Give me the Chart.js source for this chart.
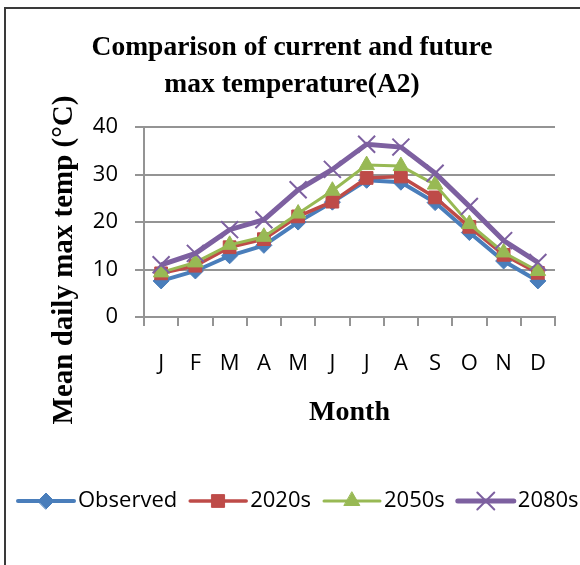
<!DOCTYPE html>
<html>
<head>
<meta charset="utf-8">
<script src="https://cdn.jsdelivr.net/npm/chart.js@4.4.1/dist/chart.umd.min.js"></script>
<style>
  html, body { margin: 0; padding: 0; background: #fff; overflow: hidden; }
  #wrap { width: 580px; height: 565px; position: relative; }
</style>
</head>
<body>
<div id="wrap"><canvas id="c" width="580" height="565"></canvas></div>
<script>
// Monthly mean daily maximum temperature (°C), observed and A2 scenario projections
const months = ['J', 'F', 'M', 'A', 'M', 'J', 'J', 'A', 'S', 'O', 'N', 'D'];
const observed    = [7.6, 9.7, 12.9, 15.1, 20.0, 24.2, 28.8, 28.4, 24.1, 17.8, 11.8, 7.6];
const future2020s = [9.2, 10.8, 14.7, 16.4, 21.2, 24.3, 29.3, 29.6, 25.2, 19.0, 13.1, 9.3];
const future2050s = [9.4, 11.5, 15.2, 16.9, 21.8, 26.6, 32.0, 31.8, 27.9, 19.6, 13.6, 9.7];
const future2080s = [11.0, 13.4, 18.4, 20.5, 26.8, 31.1, 36.4, 35.8, 30.3, 23.3, 16.1, 11.5];
const seriesNames = ['Observed', '2020s', '2050s', '2080s'];
const yMin = 0, yMax = 40, yStep = 10;

const titleLines = ['Comparison of current and future', 'max temperature(A2)'];
const yTitle = 'Mean daily max temp (°C)';
const xTitle = 'Month';

const SERIF = "'Liberation Serif', 'DejaVu Serif', serif";
const SANS = "'Open Sans', 'Liberation Sans', sans-serif";
const GRID = '#949494';

// white page with the chart-area frame
const framePlugin = {
  id: 'frame',
  beforeDraw(chart) {
    const ctx = chart.ctx;
    ctx.save();
    ctx.fillStyle = '#fff';
    ctx.fillRect(0, 0, chart.width, chart.height);
    ctx.strokeStyle = '#3a3a3a';
    ctx.lineWidth = 2;
    ctx.strokeRect(5, 8, chart.width + 20, chart.height + 20);
    ctx.restore();
  }
};

// rotated value-axis title and the line+marker legend row
const extrasPlugin = {
  id: 'extras',
  afterDraw(chart) {
    const ctx = chart.ctx;
    ctx.save();
    ctx.translate(65, 260);
    ctx.rotate(-Math.PI / 2);
    ctx.font = 'bold 29px ' + SERIF;
    ctx.fillStyle = '#000';
    ctx.textAlign = 'center';
    ctx.textBaseline = 'middle';
    ctx.fillText(yTitle, 0, 0);
    ctx.restore();

    ctx.save();
    const y = 501;
    let x = 18;
    ctx.font = '22px ' + SANS;
    ctx.textBaseline = 'middle';
    ctx.textAlign = 'left';
    chart.data.datasets.forEach((ds) => {
      const lineLen = 56;
      ctx.strokeStyle = ds.borderColor;
      ctx.lineWidth = ds.borderWidth;
      ctx.lineCap = 'round';
      ctx.beginPath();
      ctx.moveTo(x, y);
      ctx.lineTo(x + lineLen, y);
      ctx.stroke();
      ctx.fillStyle = ds.pointBackgroundColor;
      ctx.strokeStyle = ds.pointBorderColor;
      ctx.lineWidth = ds.pointBorderWidth;
      Chart.helpers.drawPoint(ctx, {
        pointStyle: ds.pointStyle,
        radius: ds.pointRadius,
        borderWidth: ds.pointBorderWidth,
        rotation: 0
      }, x + lineLen / 2, y);
      ctx.fillStyle = '#000';
      ctx.fillText(ds.label, x + lineLen + 4, y);
      x += lineLen + 4 + ctx.measureText(ds.label).width + 13;
    });
    ctx.restore();
  }
};

const series = [
  { label: seriesNames[0], data: observed,    color: '#4A7EBB', width: 4,   style: 'rectRot',  r: 8, order: 3 },
  { label: seriesNames[1], data: future2020s, color: '#BE4B48', width: 3.5, style: 'rect',     r: 9, order: 2 },
  { label: seriesNames[2], data: future2050s, color: '#98B954', width: 3,   style: 'triangle', r: 9, order: 1 },
  { label: seriesNames[3], data: future2080s, color: '#7D60A0', width: 5,   style: 'crossRot', r: 12, order: 0 }
];

new Chart(document.getElementById('c'), {
  type: 'line',
  data: {
    labels: months,
    datasets: series.map(s => ({
      label: s.label,
      data: s.data,
      borderColor: s.color,
      backgroundColor: s.color,
      borderWidth: s.width,
      pointStyle: s.style,
      pointRadius: s.r,
      pointHoverRadius: s.r,
      pointBackgroundColor: s.color,
      pointBorderColor: s.color,
      pointBorderWidth: s.style === 'crossRot' ? 2 : 1,
      tension: 0,
      fill: false,
      order: s.order
    }))
  },
  options: {
    responsive: false,
    animation: false,
    devicePixelRatio: 1,
    layout: { padding: { left: 29, right: 25, top: 0, bottom: 128 } },
    plugins: {
      legend: { display: false },
      tooltip: { enabled: false },
      title: {
        display: true,
        text: titleLines,
        color: '#000',
        font: { family: SERIF, size: 27.5, weight: 'bold', lineHeight: 1.33 },
        padding: { top: 30, bottom: 24 }
      }
    },
    scales: {
      x: {
        offset: true,
        grid: { offset: true, drawOnChartArea: false, drawTicks: true, tickLength: 9, color: GRID, lineWidth: 2 },
        border: { display: true, color: GRID, width: 2 },
        ticks: { color: '#000', font: { family: SANS, size: 22 }, padding: 25, maxRotation: 0, autoSkip: false },
        title: {
          display: true,
          text: xTitle,
          color: '#000',
          font: { family: SERIF, size: 28, weight: 'bold', lineHeight: 1.2 },
          padding: { top: 0, bottom: 7 }
        },
        afterFit(scale) { scale.height = 120; }
      },
      y: {
        min: yMin,
        max: yMax,
        grid: { color: GRID, lineWidth: 2, drawTicks: true, tickLength: 9 },
        border: { display: true, color: GRID, width: 2 },
        ticks: { stepSize: yStep, color: '#000', font: { family: SANS, size: 22 }, padding: 17 },
        afterFit(scale) { scale.width = 144 - 29; }
      }
    }
  },
  plugins: [framePlugin, extrasPlugin]
});
</script>
</body>
</html>
